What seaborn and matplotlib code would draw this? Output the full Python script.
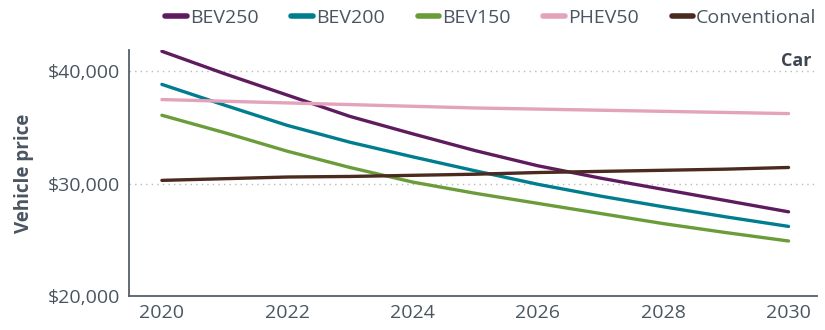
import numpy as np
import pandas as pd
import matplotlib
matplotlib.use("Agg")
import matplotlib.pyplot as plt
import seaborn as sns

years = list(range(2020, 2031))
bev250 = [41800, 39800, 37900, 36000, 34450, 32950, 31600, 30500, 29500, 28500, 27500]
bev200 = [38850, 37000, 35200, 33700, 32400, 31150, 29950, 28900, 27950, 27050, 26200]
bev150 = [36100, 34550, 32900, 31450, 30150, 29150, 28250, 27350, 26450, 25650, 24900]
phev50 = [37500, 37350, 37200, 37050, 36900, 36750, 36650, 36550, 36450, 36350, 36250]
conventional = [30300, 30450, 30600, 30650, 30750, 30850, 31000, 31100, 31200, 31300, 31450]

series_names = ["BEV250", "BEV200", "BEV150", "PHEV50", "Conventional"]
series_vals = [bev250, bev200, bev150, phev50, conventional]
colors = ["#5e1c5f", "#007d8e", "#6b9c3a", "#e2a3bb", "#4b2a20"]
ytick_vals = [20000, 30000, 40000]
ytick_labels = ["$20,000", "$30,000", "$40,000"]
xtick_vals = [2020, 2022, 2024, 2026, 2028, 2030]

df = pd.DataFrame({
    "year": years * len(series_names),
    "price": sum(series_vals, []),
    "series": sum([[n] * len(years) for n in series_names], []),
})

sns.set_theme(style="white")
plt.rcParams['font.family'] = ['Open Sans', 'DejaVu Sans']
txt = "#4a5561"

fig = plt.figure(figsize=(8.25, 3.3), dpi=100)
ax = fig.add_axes([0.156, 0.103, 0.834, 0.745])

sns.lineplot(data=df, x="year", y="price", hue="series", hue_order=series_names,
             palette=colors, linewidth=2.4, ax=ax, legend=True,
             solid_capstyle="round")

ax.set_xlim(2019.47, 2030.45)
ax.set_ylim(20000, 41900)
ax.set_yticks(ytick_vals)
ax.set_yticklabels(ytick_labels)
ax.set_xticks(xtick_vals)
ax.tick_params(axis="both", length=0, labelsize=14, colors=txt, pad=6)
for v in [30000, 40000]:
    ax.axhline(v, color="#bbbbbb", linestyle=(0, (1, 3)), linewidth=1, zorder=0)

for s in ["top", "right"]:
    ax.spines[s].set_visible(False)
for s in ["left", "bottom"]:
    ax.spines[s].set_color("#56606a")
    ax.spines[s].set_linewidth(1.3)

ax.set_xlabel("")
ax.set_ylabel("Vehicle price", fontsize=13.5, fontweight="bold", color=txt, labelpad=10)
ax.text(0.993, 0.955, "Car", transform=ax.transAxes, ha="right", va="center",
        fontsize=13, fontweight="bold", color="#3d4650")

handles, labels = ax.get_legend_handles_labels()
for h in handles:
    h.set_linewidth(4)
    h.set_solid_capstyle("round")
leg = fig.legend(handles, labels, loc="center", bbox_to_anchor=(0.595, 0.945), ncol=5,
                 frameon=False, fontsize=14, handlelength=1.1, handletextpad=0.15,
                 columnspacing=1.7, borderpad=0)
for t in leg.get_texts():
    t.set_color(txt)
ax.get_legend().remove()

fig.savefig("out.png", dpi=100)
